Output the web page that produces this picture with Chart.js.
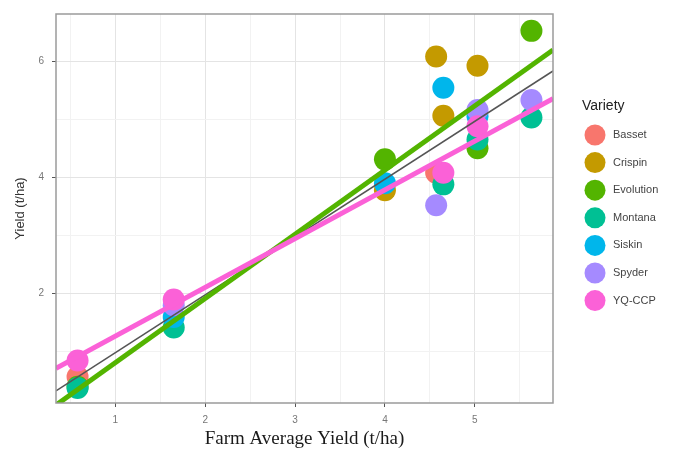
<!DOCTYPE html>
<html>
<head>
<meta charset="utf-8">
<script src="https://cdn.jsdelivr.net/npm/chart.js@4.4.0/dist/chart.umd.min.js"></script>
<style>
  body { margin: 0; background: #fff; }
</style>
</head>
<body>
<canvas id="chart" width="674" height="452"></canvas>
<script>
// Variety yield vs farm average yield, with fitted lines

const varieties = ['Basset', 'Crispin', 'Evolution', 'Montana', 'Siskin', 'Spyder', 'YQ-CCP'];
const colours = ['#F8766D', '#C49A00', '#53B400', '#00C094', '#00B6EB', '#A58AFF', '#FB61D7'];

// x = farm average yield, y = variety yield (t/ha)
const bassetX = [0.58, 4.57];
const bassetY = [0.57, 4.08];
const crispinX = [4.0, 4.57, 4.65, 5.03];
const crispinY = [3.78, 6.08, 5.06, 5.92];
const evolutionX = [0.58, 4.0, 5.03, 5.63];
const evolutionY = [0.40, 4.31, 4.50, 6.52];
const montanaX = [0.58, 1.65, 4.65, 5.03, 5.63];
const montanaY = [0.38, 1.42, 3.88, 4.65, 5.03];
const siskinX = [1.65, 4.0, 4.65, 5.03];
const siskinY = [1.60, 3.90, 5.54, 5.05];
const spyderX = [1.65, 4.57, 5.03, 5.63];
const spyderY = [1.80, 3.52, 5.16, 5.33];
const yqX = [0.58, 1.65, 4.65, 5.03];
const yqY = [0.85, 1.90, 4.08, 4.88];

// fitted lines, value at each end of the x range
const fitX = [0.34, 5.87];
const allFitY = [0.33, 5.83];
const evolutionFitY = [0.085, 6.19];
const yqFitY = [0.715, 5.355];

// axes
const xTicks = [0.5, 1, 1.5, 2, 2.5, 3, 3.5, 4, 4.5, 5, 5.5];
const xLabels = [1, 2, 3, 4, 5];
const yTicks = [1, 2, 3, 4, 5, 6];
const yLabels = [2, 4, 6];

const pts = (xs, ys) => xs.map((x, i) => ({ x: x, y: ys[i] }));

const pointSets = [
  pts(bassetX, bassetY), pts(crispinX, crispinY), pts(evolutionX, evolutionY),
  pts(montanaX, montanaY), pts(siskinX, siskinY), pts(spyderX, spyderY), pts(yqX, yqY)
];

const datasets = [
  { label: 'fit all', data: pts(fitX, allFitY), showLine: true, borderColor: '#555555', borderWidth: 1.5, pointRadius: 0, order: 2 },
  { label: 'fit Evolution', data: pts(fitX, evolutionFitY), showLine: true, borderColor: colours[2], borderWidth: 5, pointRadius: 0, order: 1 },
  { label: 'fit YQ-CCP', data: pts(fitX, yqFitY), showLine: true, borderColor: colours[6], borderWidth: 5, pointRadius: 0, order: 0 },
];
varieties.forEach((name, i) => {
  datasets.push({
    label: name,
    data: pointSets[i],
    backgroundColor: colours[i],
    borderWidth: 0,
    pointRadius: 11,
    pointHoverRadius: 11,
    order: 10 + (varieties.length - i)  // later varieties drawn on top
  });
});

const setTicks = (values) => (scale) => { scale.ticks = values.map((v) => ({ value: v })); };

// panel border and legend, drawn like ggplot
const panelPlugin = {
  id: 'panel',
  afterDraw(chart) {
    const { ctx, chartArea: a } = chart;
    ctx.save();
    ctx.strokeStyle = '#9a9a9a';
    ctx.lineWidth = 1.5;
    ctx.strokeRect(a.left, a.top, a.right - a.left, a.bottom - a.top);

    ctx.fillStyle = '#222';
    ctx.font = '14px "Liberation Sans", Arial, sans-serif';
    ctx.textBaseline = 'middle';
    ctx.fillText('Variety', 582, 106);
    ctx.font = '11px "Liberation Sans", Arial, sans-serif';
    varieties.forEach((name, i) => {
      const y = 135 + i * 27.6;
      ctx.beginPath();
      ctx.fillStyle = colours[i];
      ctx.arc(595, y, 10.5, 0, Math.PI * 2);
      ctx.fill();
      ctx.fillStyle = '#444';
      ctx.fillText(name, 613, y);
    });
    ctx.restore();
  }
};

new Chart(document.getElementById('chart'), {
  type: 'scatter',
  data: { datasets: datasets },
  options: {
    responsive: false,
    animation: false,
    layout: { padding: { top: 10, right: 121, left: 0, bottom: 0 } },
    plugins: { legend: { display: false }, tooltip: { enabled: false } },
    scales: {
      x: {
        min: 0.34,
        max: 5.87,
        afterBuildTicks: setTicks(xTicks),
        afterFit: (s) => { s.height = 49; },
        border: { display: false },
        grid: {
          color: (c) => (c.tick && xLabels.includes(c.tick.value) ? '#e4e4e4' : '#f2f2f2'),
          tickColor: (c) => (c.tick && xLabels.includes(c.tick.value) ? '#555' : 'rgba(0,0,0,0)'),
          tickLength: 4
        },
        ticks: {
          autoSkip: false,
          maxRotation: 0,
          padding: 7,
          color: '#777',
          font: { family: '"Liberation Sans", Arial, sans-serif', size: 10 },
          callback: (v) => (xLabels.includes(v) ? v : '')
        },
        title: {
          display: true,
          text: 'Farm Average Yield (t/ha)',
          color: '#1a1a1a',
          font: { family: '"Liberation Serif", "DejaVu Serif", serif', size: 19 },
          padding: { top: 0, bottom: 2 }
        }
      },
      y: {
        min: 0.12,
        max: 6.81,
        afterBuildTicks: setTicks(yTicks),
        afterFit: (s) => { s.width = 56; },
        border: { display: false },
        grid: {
          color: (c) => (c.tick && yLabels.includes(c.tick.value) ? '#e4e4e4' : '#f2f2f2'),
          tickColor: (c) => (c.tick && yLabels.includes(c.tick.value) ? '#555' : 'rgba(0,0,0,0)'),
          tickLength: 4
        },
        ticks: {
          autoSkip: false,
          padding: 8,
          color: '#777',
          font: { family: '"Liberation Sans", Arial, sans-serif', size: 10 },
          callback: (v) => (yLabels.includes(v) ? v : '')
        },
        title: {
          display: true,
          text: 'Yield (t/ha)',
          color: '#333',
          font: { family: '"Liberation Sans", Arial, sans-serif', size: 13 },
          padding: { top: 13, bottom: 0 }
        }
      }
    }
  },
  plugins: [panelPlugin]
});
</script>
</body>
</html>
